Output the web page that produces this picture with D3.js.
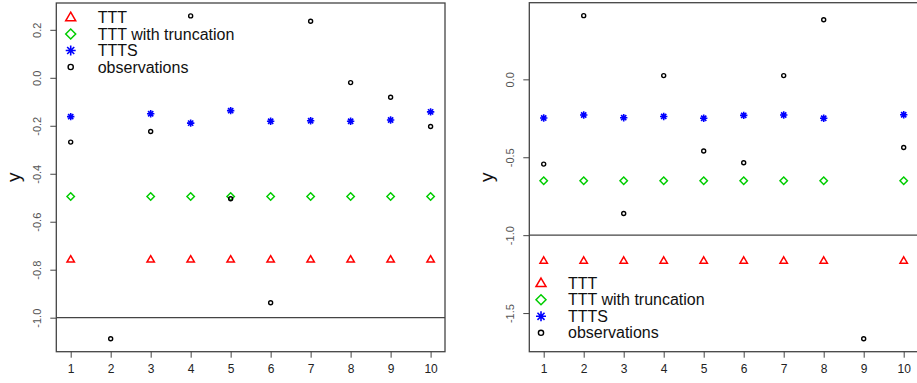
<!DOCTYPE html>
<html lang="en">
  <head>
    <meta charset="UTF-8" />
    <title>TTT vs observations</title>
    <script src="https://cdnjs.cloudflare.com/ajax/libs/d3/7.8.5/d3.min.js"></script>
    <style>
      body { margin: 0; background: #fff; }
      svg { font-family: "Liberation Sans", Arial, sans-serif; }
    </style>
  </head>
  <body>
    <svg id="chart" width="917" height="383"></svg>

    <script type="text/javascript">
      var xs = [1, 2, 3, 4, 5, 6, 7, 8, 9, 10];
      var legendLabels = ["TTT", "TTT with truncation", "TTTS", "observations"];

      /* left panel (null = no point) */
      var leftTTT = [-0.758, null, -0.758, -0.758, -0.758, -0.758, -0.758, -0.758, -0.758, -0.758];
      var leftTrunc = [-0.495, null, -0.495, -0.495, -0.495, -0.495, -0.495, -0.495, -0.495, -0.495];
      var leftTTTS = [-0.162, null, -0.150, -0.189, -0.137, -0.181, -0.179, -0.181, -0.176, -0.142];
      var leftObs = [-0.268, -1.088, -0.224, 0.258, -0.504, -0.938, 0.236, -0.020, -0.081, -0.203];
      var leftTicks = [-1.0, -0.8, -0.6, -0.4, -0.2, 0.0, 0.2];

      /* right panel */
      var rightTTT = [-1.164, -1.164, -1.164, -1.164, -1.164, -1.164, -1.164, -1.164, null, -1.164];
      var rightTrunc = [-0.651, -0.651, -0.651, -0.651, -0.651, -0.651, -0.651, -0.651, null, -0.651];
      var rightTTTS = [-0.248, -0.229, -0.246, -0.238, -0.250, -0.231, -0.229, -0.250, null, -0.227];
      var rightObs = [-0.544, 0.409, -0.861, 0.024, -0.460, -0.535, 0.024, 0.383, -1.665, -0.437];
      var rightTicks = [-1.5, -1.0, -0.5, 0.0];

      var hLine = -1;
      var svg = d3.select("#chart");

      function panel(opts) {
        var g = svg.append("g");
        var yVals = opts.obs.concat(opts.ttt, opts.trunc, opts.ttts).filter(function (v) { return v !== null; });
        var ext = d3.extent(yVals), pad = (ext[1] - ext[0]) * 0.04;
        var x = d3.scaleLinear().domain([1 - 0.36, 10 + 0.36]).range([opts.left, opts.right]);
        var y = d3.scaleLinear().domain([ext[0] - pad, ext[1] + pad]).range([opts.bottom, opts.top]);

        // box
        g.append("rect")
          .attr("x", opts.left).attr("y", opts.top)
          .attr("width", opts.right - opts.left).attr("height", opts.bottom - opts.top)
          .attr("fill", "none").attr("stroke", "#444").attr("stroke-width", 1.3);

        // x axis
        var xa = g.append("g").attr("transform", "translate(0," + opts.bottom + ")")
          .call(d3.axisBottom(x).tickValues(xs).tickSize(6).tickPadding(7).tickFormat(d3.format("d")));
        xa.select(".domain").remove();
        xa.selectAll("line").attr("stroke", "#444");
        xa.selectAll("text").attr("font-size", 12).attr("fill", "#222").attr("font-family", null);

        // y axis
        var ya = g.append("g").attr("transform", "translate(" + opts.left + ",0)")
          .call(d3.axisLeft(y).tickValues(opts.ticks).tickSize(6).tickFormat(d3.format(".1f")));
        ya.select(".domain").remove();
        ya.selectAll("line").attr("stroke", "#444");
        ya.selectAll("text")
          .attr("font-size", 11).attr("fill", "#555").attr("font-family", null)
          .attr("text-anchor", "middle").attr("x", null)
          .attr("transform", "translate(-19,0) rotate(-90)")
          .attr("y", 0).attr("dy", "0.35em")
          .text(function (d) { return d3.format(".1f")(d).replace("\u2212", "-"); });

        g.append("text")
          .attr("transform", "translate(" + opts.ylabX + "," + ((opts.top + opts.bottom) / 2) + ") rotate(-90)")
          .attr("text-anchor", "middle").attr("dy", "0.35em")
          .attr("font-size", 19).attr("fill", "#111").text("y");

        // reference line
        g.append("line")
          .attr("x1", opts.left).attr("x2", opts.right)
          .attr("y1", y(hLine)).attr("y2", y(hLine))
          .attr("stroke", "#444").attr("stroke-width", 1.2);

        var pts = g.append("g");
        drawSeries(pts, opts.ttt, x, y, "tri");
        drawSeries(pts, opts.trunc, x, y, "dia");
        drawSeries(pts, opts.ttts, x, y, "star");
        drawSeries(pts, opts.obs, x, y, "circ");

        // legend
        var lg = g.append("g");
        var kinds = ["tri", "dia", "star", "circ"];
        legendLabels.forEach(function (lab, i) {
          var cy = opts.legY + i * 16.5;
          drawSymbol(lg, opts.legX, cy, kinds[i], true);
          lg.append("text").attr("x", opts.legX + 27).attr("y", cy).attr("dy", "0.35em")
            .attr("font-size", 16).attr("fill", "#111").text(lab);
        });
      }

      var colors = { tri: "#ff0000", dia: "#00cd00", star: "#0000ff", circ: "#000" };

      function drawSymbol(g, cx, cy, kind, big) {
        var s = big ? 1.35 : 1;
        if (kind === "tri") {
          var r = 3.9 * s;
          g.append("path")
            .attr("d", "M" + cx + "," + (cy - r) + "L" + (cx + r * 0.95) + "," + (cy + r * 0.62) + "L" + (cx - r * 0.95) + "," + (cy + r * 0.62) + "Z")
            .attr("fill", "none").attr("stroke", colors.tri).attr("stroke-width", 1.5);
        } else if (kind === "dia") {
          var d = 3.7 * s;
          g.append("path")
            .attr("d", "M" + cx + "," + (cy - d) + "L" + (cx + d) + "," + cy + "L" + cx + "," + (cy + d) + "L" + (cx - d) + "," + cy + "Z")
            .attr("fill", "none").attr("stroke", colors.dia).attr("stroke-width", 1.5);
        } else if (kind === "star") {
          var a = 3.7 * s, p = "";
          [0, 45, 90, 135].forEach(function (ang) {
            var t = ang * Math.PI / 180;
            p += "M" + (cx - a * Math.cos(t)) + "," + (cy - a * Math.sin(t)) + "L" + (cx + a * Math.cos(t)) + "," + (cy + a * Math.sin(t));
          });
          g.append("path").attr("d", p).attr("stroke", colors.star).attr("stroke-width", 1.6);
        } else {
          g.append("circle").attr("cx", cx).attr("cy", cy).attr("r", big ? 2.6 : 2.0)
            .attr("fill", "none").attr("stroke", colors.circ).attr("stroke-width", 1.4);
        }
      }

      function drawSeries(g, vals, x, y, kind) {
        vals.forEach(function (v, i) {
          if (v === null) return;
          drawSymbol(g, x(xs[i]), y(v), kind, false);
        });
      }

      panel({
        left: 56.3, right: 445, top: 3, bottom: 351.7,
        ttt: leftTTT, trunc: leftTrunc, ttts: leftTTTS, obs: leftObs,
        ticks: leftTicks, ylabX: 13, legX: 70.7, legY: 17.5
      });

      panel({
        left: 529.3, right: 918.1, top: 2.7, bottom: 351.7,
        ttt: rightTTT, trunc: rightTrunc, ttts: rightTTTS, obs: rightObs,
        ticks: rightTicks, ylabX: 486, legX: 541, legY: 283.3
      });
    </script>
  </body>
</html>
